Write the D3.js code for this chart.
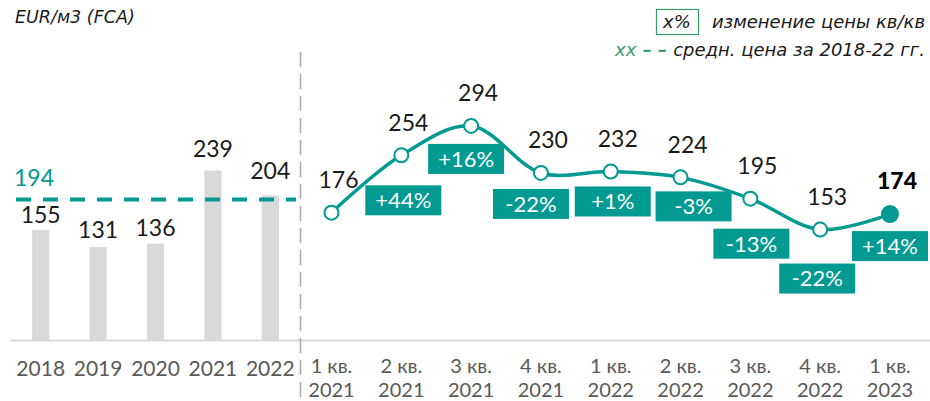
<!DOCTYPE html>
<html>
<head>
<meta charset="utf-8">
<script src="https://cdnjs.cloudflare.com/ajax/libs/d3/7.8.5/d3.min.js"></script>
<style>
  body { margin: 0; background: #fff; }
  svg { display: block; font-family: Lato, "Noto Sans", sans-serif; }
  .it { font-family: "DejaVu Sans", sans-serif; font-style: italic; }
</style>
</head>
<body>
<svg id="chart" width="930" height="401"></svg>
<script>
// годовые данные
var years = ["2018", "2019", "2020", "2021", "2022"];
var yearPrices = [155, 131, 136, 239, 204];
var avgPrice = 194;

// квартальные данные
var quarters = ["1 кв.|2021", "2 кв.|2021", "3 кв.|2021", "4 кв.|2021", "1 кв.|2022",
                "2 кв.|2022", "3 кв.|2022", "4 кв.|2022", "1 кв.|2023"];
var quarterPrices = [176, 254, 294, 230, 232, 224, 195, 153, 174];
var qoqChange = [null, "+44%", "+16%", "-22%", "+1%", "-3%", "-13%", "-22%", "+14%"];

var teal = "#009a93";
var green = "#3a9e6a";
var grey = "#595959";
var dark = "#1a1a1a";

var svg = d3.select("#chart");

// шкалы
var xBar = d3.scaleBand().domain(years).range([12, 299]).paddingInner(0.7).paddingOuter(0.35);
var yBar = d3.scaleLinear().domain([0, 300]).range([340, 340 - 0.709 * 300]);
var xLine = d3.scalePoint().domain(quarters).range([331.5, 890]);
var yLine = d3.scaleLinear().domain([0, 300]).range([342, 342 - 0.735 * 300]);

// смещения подписей (раскладка)
var barLabelDy = [-15, -17, -16, -22, -25];
var boxOffset = [null, [2, 45], [-5, 33], [-10, 31], [2, 30], [13, 29], [1, 45], [-3, 49], [0, 32]];

// базовая линия
svg.append("line")
    .attr("x1", 11).attr("x2", 930)
    .attr("y1", 340.5).attr("y2", 340.5)
    .attr("stroke", "#d9d9d9").attr("stroke-width", 2);

// столбцы
svg.selectAll(".bar")
    .data(yearPrices)
    .enter().append("rect")
    .attr("class", "bar")
    .attr("x", (d, i) => xBar(years[i]))
    .attr("y", d => yBar(d))
    .attr("width", xBar.bandwidth())
    .attr("height", d => yBar(0) - yBar(d))
    .attr("fill", "#d9d9d9");

svg.selectAll(".barlabel")
    .data(yearPrices)
    .enter().append("text")
    .attr("x", (d, i) => xBar(years[i]) + xBar.bandwidth() / 2)
    .attr("y", (d, i) => yBar(d) + barLabelDy[i])
    .attr("dy", "0.36em")
    .attr("text-anchor", "middle")
    .attr("font-size", 23)
    .attr("fill", dark)
    .text(d => d);

// подписи годов
svg.append("g")
    .attr("transform", "translate(0,340)")
    .call(d3.axisBottom(xBar).tickSize(0).tickPadding(0))
    .call(g => g.select(".domain").remove())
    .selectAll("text")
    .attr("y", 28)
    .attr("dy", "0.36em")
    .attr("font-family", "Lato, sans-serif")
    .attr("font-size", 21)
    .attr("fill", grey);

// средняя цена
svg.append("line")
    .attr("x1", 16).attr("x2", 296)
    .attr("y1", yLine(avgPrice)).attr("y2", yLine(avgPrice))
    .attr("stroke", teal).attr("stroke-width", 4)
    .attr("stroke-dasharray", "15,12");

svg.append("text")
    .attr("x", 14).attr("y", yLine(avgPrice) - 22)
    .attr("dy", "0.36em")
    .attr("font-size", 23)
    .attr("fill", teal)
    .text(avgPrice);

// разделитель
svg.append("line")
    .attr("x1", 300.5).attr("x2", 300.5)
    .attr("y1", 52).attr("y2", 401)
    .attr("stroke", "#a6a6a6").attr("stroke-width", 1.5)
    .attr("stroke-dasharray", "15,7");

// подписи кварталов
var qAxis = svg.append("g");
quarters.forEach(function (q) {
    var parts = q.split("|");
    var t = qAxis.append("text")
        .attr("x", xLine(q))
        .attr("text-anchor", "middle")
        .attr("font-size", 20)
        .attr("fill", grey);
    t.append("tspan").attr("x", xLine(q)).attr("y", 373).text(parts[0]);
    t.append("tspan").attr("x", xLine(q)).attr("y", 397).text(parts[1]);
});

// линия
var line = d3.line()
    .x((d, i) => xLine(quarters[i]))
    .y(d => yLine(d))
    .curve(d3.curveCatmullRom.alpha(0.5));

svg.append("path")
    .datum(quarterPrices)
    .attr("d", line)
    .attr("fill", "none")
    .attr("stroke", teal)
    .attr("stroke-width", 3.5);

// плашки изменения
var boxes = svg.selectAll(".box")
    .data(qoqChange.map((d, i) => ({ v: d, i: i })).filter(d => d.v))
    .enter().append("g")
    .attr("transform", d => "translate(" + (xLine(quarters[d.i]) + boxOffset[d.i][0]) + "," +
        (yLine(quarterPrices[d.i]) + boxOffset[d.i][1]) + ")");

boxes.append("rect")
    .attr("x", -38).attr("y", -15)
    .attr("width", 76).attr("height", 30)
    .attr("fill", teal);

boxes.append("text")
    .attr("text-anchor", "middle")
    .attr("dy", "0.36em")
    .attr("font-size", 22)
    .attr("fill", "#fff")
    .text(d => d.v);

// точки
svg.selectAll(".dot")
    .data(quarterPrices)
    .enter().append("circle")
    .attr("cx", (d, i) => xLine(quarters[i]))
    .attr("cy", d => yLine(d))
    .attr("r", (d, i) => i === quarterPrices.length - 1 ? 8 : 7)
    .attr("fill", (d, i) => i === quarterPrices.length - 1 ? teal : "#fff")
    .attr("stroke", teal)
    .attr("stroke-width", 2);

svg.selectAll(".dotlabel")
    .data(quarterPrices)
    .enter().append("text")
    .attr("x", (d, i) => xLine(quarters[i]) + 7)
    .attr("y", d => yLine(d) - 33)
    .attr("dy", "0.36em")
    .attr("text-anchor", "middle")
    .attr("font-size", 23)
    .attr("font-weight", (d, i) => i === quarterPrices.length - 1 ? 900 : 400)
    .attr("fill", (d, i) => i === quarterPrices.length - 1 ? "#000" : dark)
    .text(d => d);

// заголовок
svg.append("text")
    .attr("class", "it")
    .attr("x", 15).attr("y", 23)
    .attr("font-size", 17.5)
    .attr("fill", dark)
    .text("EUR/м3 (FCA)");

// легенда
svg.append("rect")
    .attr("x", 656.5).attr("y", 9.5)
    .attr("width", 42).attr("height", 25)
    .attr("fill", "none")
    .attr("stroke", green).attr("stroke-width", 1.2);

svg.append("text")
    .attr("class", "it")
    .attr("x", 677).attr("y", 28)
    .attr("text-anchor", "middle")
    .attr("font-size", 18)
    .attr("fill", dark)
    .text("x%");

svg.append("text")
    .attr("class", "it")
    .attr("x", 925).attr("y", 28)
    .attr("text-anchor", "end")
    .attr("font-size", 18)
    .attr("fill", dark)
    .text("изменение цены кв/кв");

var leg2 = svg.append("text")
    .attr("class", "it")
    .attr("x", 925).attr("y", 56)
    .attr("text-anchor", "end")
    .attr("font-size", 18);
leg2.append("tspan").attr("fill", green).text("xx");
leg2.append("tspan").attr("fill", green).attr("font-weight", "bold").text(" – – ");
leg2.append("tspan").attr("fill", dark).text("средн. цена за 2018-22 гг.");
</script>
</body>
</html>
